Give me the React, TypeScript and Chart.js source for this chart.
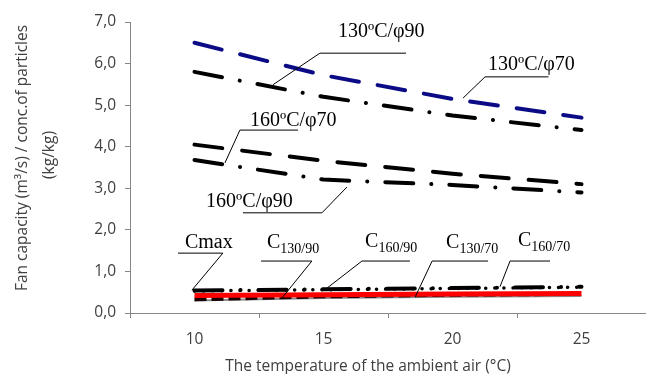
import React, { useEffect, useRef } from 'react';
import { Chart, registerables } from 'chart.js';

Chart.register(...registerables);

// ---- data ----
const temperatures = ['10', '15', '20', '25'];
const fan130phi70 = [6.5, 5.72, 5.15, 4.7];
const fan130phi90 = [5.8, 5.2, 4.75, 4.4];
const fan160phi70 = [4.05, 3.66, 3.35, 3.1];
const fan160phi90 = [3.68, 3.21, 3.08, 2.9];
const cMax = [0.42, 0.44, 0.46, 0.47];
const c130_90 = [0.33, 0.4, 0.44, 0.46];
const c160_90 = [0.53, 0.56, 0.59, 0.62];
const c130_70 = [0.3, 0.36, 0.39, 0.41];
const c160_70 = [0.54, 0.57, 0.6, 0.63];
const yMin = 0;
const yMax = 7;
const yStep = 1;

const xTitle = 'The temperature of the ambient air (\u00B0C)';
const yTitleLines = ['Fan capacity (m\u00B3/s) / conc.of particles', '(kg/kg)'];

// annotation labels: anchor in (temperature, value) units
type Note = { text: string; sub?: string; at: [number, number]; leader: [number, number][] };
const notes: Note[] = [
  { text: '130ºC/φ90', at: [15.56, 6.64], leader: [[18.2, 6.25], [14.86, 6.25], [13.04, 5.49]] },
  { text: '130ºC/φ70', at: [21.38, 5.85], leader: [[23.72, 5.68], [21.26, 5.68], [20.41, 5.17]] },
  { text: '160ºC/φ70', at: [12.15, 4.5], leader: [[14.01, 4.4], [11.76, 4.4], [11.18, 3.61]] },
  { text: '160ºC/φ90', at: [10.45, 2.55], leader: [[11.88, 2.41], [14.94, 2.41], [15.91, 3.03]] },
  { text: 'Cmax', at: [9.63, 1.56], leader: [[9.36, 1.44], [11.1, 1.44], [9.9, 0.55]] },
  { text: 'C', sub: '130/90', at: [12.81, 1.56], leader: [[12.58, 1.25], [14.55, 1.25], [13.39, 0.36]] },
  { text: 'C', sub: '160/90', at: [16.61, 1.59], leader: [[18.35, 1.25], [16.49, 1.25], [15.14, 0.6]] },
  { text: 'C', sub: '130/70', at: [19.75, 1.56], leader: [[21.38, 1.25], [19.21, 1.25], [18.55, 0.38]] },
  { text: 'C', sub: '160/70', at: [22.54, 1.61], leader: [[23.78, 1.25], [22.23, 1.25], [21.84, 0.63]] },
];

const tempToIndex = (t: number) => (t - 10) / 5;

const overlayPlugin = {
  id: 'overlay',
  afterDraw(chart: any) {
    const ctx: CanvasRenderingContext2D = chart.ctx;
    const xs = chart.scales.x;
    const ys = chart.scales.y;
    ctx.save();
    // axis titles
    ctx.fillStyle = '#404040';
    ctx.font = '15.5px "Open Sans"';
    ctx.textAlign = 'center';
    ctx.textBaseline = 'middle';
    ctx.fillText(xTitle, 368, 367);
    ctx.save();
    ctx.translate(23, 158);
    ctx.rotate(-Math.PI / 2);
    ctx.fillText(yTitleLines[0], 0, 0);
    ctx.restore();
    ctx.save();
    ctx.translate(50, 155);
    ctx.rotate(-Math.PI / 2);
    ctx.fillText(yTitleLines[1], 0, 0);
    ctx.restore();

    // annotations
    ctx.strokeStyle = '#000';
    ctx.lineWidth = 1;
    ctx.fillStyle = '#000';
    ctx.textAlign = 'left';
    ctx.textBaseline = 'alphabetic';
    for (const n of notes) {
      ctx.beginPath();
      n.leader.forEach((p, i) => {
        const px = xs.getPixelForValue(tempToIndex(p[0]));
        const py = ys.getPixelForValue(p[1]);
        if (i === 0) ctx.moveTo(px, py);
        else ctx.lineTo(px, py);
      });
      ctx.stroke();
      const tx = xs.getPixelForValue(tempToIndex(n.at[0]));
      const ty = ys.getPixelForValue(n.at[1]);
      ctx.font = '20px "Liberation Serif"';
      ctx.fillText(n.text, tx, ty);
      if (n.sub) {
        const w = ctx.measureText(n.text).width;
        ctx.font = '14px "Liberation Serif"';
        ctx.fillText(n.sub, tx + w, ty + 5);
      }
    }
    ctx.restore();
  },
};

export default function App() {
  const ref = useRef<HTMLCanvasElement | null>(null);
  useEffect(() => {
    document.body.style.margin = '0';
    if (!ref.current) return;
    const dashDot = [28, 18, 0.1, 18];
    const chart = new Chart(ref.current, {
      type: 'line',
      data: {
        labels: temperatures,
        datasets: [
          { label: 'Cmax', data: cMax, borderColor: '#ff0000', borderWidth: 5, order: 0 },
          { label: 'C130/70', data: c130_70, borderColor: '#8a8a8a', borderWidth: 2, order: 5 },
          { label: 'C130/90', data: c130_90, borderColor: '#1a0000', borderWidth: 4, borderDash: [12, 5], order: 4 },
          { label: 'C160/90', data: c160_90, borderColor: '#000', borderWidth: 3.5, borderDash: [0.1, 9], borderCapStyle: 'round', order: 3 },
          { label: 'C160/70', data: c160_70, borderColor: '#000', borderWidth: 4, borderDash: dashDot, borderCapStyle: 'round', order: 2 },
          { label: '130ºC/φ70', data: fan130phi70, borderColor: '#0b0b85', borderWidth: 4, borderDash: [28, 19], borderCapStyle: 'round', order: 1 },
          { label: '130ºC/φ90', data: fan130phi90, borderColor: '#000', borderWidth: 4, borderDash: dashDot, borderCapStyle: 'round', order: 1 },
          { label: '160ºC/φ70', data: fan160phi70, borderColor: '#000', borderWidth: 4, borderDash: [28, 20], borderCapStyle: 'round', order: 1 },
          { label: '160ºC/φ90', data: fan160phi90, borderColor: '#000', borderWidth: 4, borderDash: dashDot, borderCapStyle: 'round', order: 1 },
        ] as any,
      },
      options: {
        responsive: false,
        animation: false,
        devicePixelRatio: 1,
        layout: { padding: { top: 22, right: 0, left: 0, bottom: 0 } },
        elements: { point: { radius: 0 }, line: { tension: 0, fill: false } },
        plugins: { legend: { display: false }, tooltip: { enabled: false }, title: { display: false } },
        scales: {
          x: {
            type: 'category',
            offset: true,
            afterFit: (s: any) => { s.height = 61; },
            grid: { display: true, offset: true, drawOnChartArea: false, drawTicks: true, tickLength: 5, tickColor: '#868686' },
            border: { display: true, color: '#868686', width: 1 },
            ticks: { color: '#404040', font: { family: 'Open Sans', size: 15.5 }, padding: 12, maxRotation: 0 },
          },
          y: {
            type: 'linear',
            min: yMin,
            max: yMax,
            afterFit: (s: any) => { s.width = 130; },
            grid: { display: true, drawOnChartArea: false, drawTicks: true, tickLength: 5, tickColor: '#868686' },
            border: { display: true, color: '#868686', width: 1 },
            ticks: {
              stepSize: yStep,
              color: '#404040',
              font: { family: 'Open Sans', size: 15.5 },
              padding: 9,
              callback: (v: any) => Number(v).toFixed(1).replace('.', ','),
            },
          },
        },
      },
      plugins: [overlayPlugin],
    });
    return () => chart.destroy();
  }, []);
  return (
    <div style={{ width: 646, height: 374 }}>
      <canvas ref={ref} width={646} height={374} />
    </div>
  );
}
